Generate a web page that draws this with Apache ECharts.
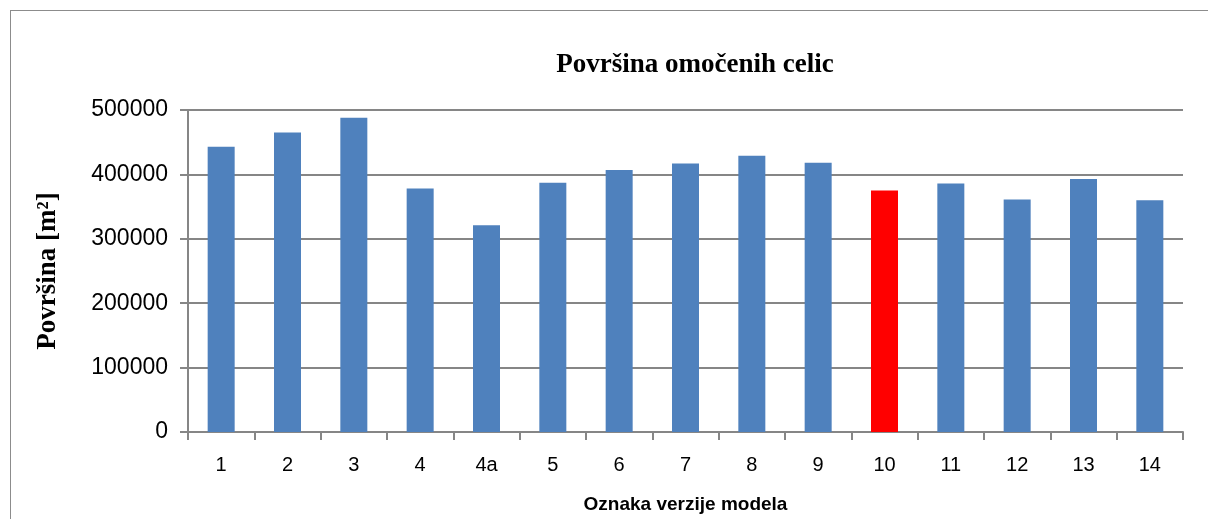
<!DOCTYPE html>
<html>
<head>
<meta charset="utf-8">
<script src="https://cdn.jsdelivr.net/npm/echarts@6/dist/echarts.min.js"></script>
<style>
  html, body { margin: 0; padding: 0; background: #fff; overflow: hidden; width: 1208px; height: 519px; }
  #frame { position: absolute; left: 10px; top: 10px; width: 1220px; height: 530px; border: 1px solid #8c8c8c; box-sizing: border-box; }
  #chart { position: absolute; left: 0; top: 0; width: 1208px; height: 519px; }
</style>
</head>
<body>
<div id="frame"></div>
<div id="chart"></div>
<script>
// oznake modelov
const categories = ['1', '2', '3', '4', '4a', '5', '6', '7', '8', '9', '10', '11', '12', '13', '14'];
// površina [m2]
const values = [443000, 465000, 488000, 378000, 321000, 387000, 407000, 417000, 429000, 418000, 375000, 386000, 361000, 393000, 360000];
const highlight = '10';
const yTicks = [0, 100000, 200000, 300000, 400000, 500000];

const myChart = echarts.init(document.getElementById('chart'));

const option = {
    animation: false,
    title: {
        text: 'Površina omočenih celic',
        left: 690,
        top: 47,
        textAlign: 'center',
        textStyle: {
            fontFamily: 'Liberation Serif',
            fontWeight: 'bold',
            fontSize: 27,
            color: '#000'
        }
    },
    grid: {
        left: 188,
        right: 25,
        top: 110,
        bottom: 87,
        outerBoundsMode: 'none'
    },
    xAxis: {
        type: 'category',
        data: categories,
        name: 'Oznaka verzije modela',
        nameLocation: 'middle',
        nameGap: 63,
        nameTextStyle: {
            fontFamily: 'Liberation Sans',
            fontWeight: 'bold',
            fontSize: 19,
            color: '#000'
        },
        axisLine: { lineStyle: { color: '#868686', width: 2 } },
        axisTick: { show: true, length: 8, lineStyle: { color: '#868686', width: 2 } },
        axisLabel: {
            margin: 23,
            fontFamily: 'Liberation Sans',
            fontSize: 20,
            color: '#000'
        }
    },
    yAxis: {
        type: 'value',
        min: yTicks[0],
        max: yTicks[yTicks.length - 1],
        interval: 100000,
        name: 'Površina [m²]',
        nameLocation: 'middle',
        nameGap: 126,
        nameTextStyle: {
            fontFamily: 'Liberation Serif',
            fontWeight: 'bold',
            fontSize: 27,
            color: '#000'
        },
        axisLine: { show: true, lineStyle: { color: '#868686', width: 2 } },
        axisTick: { show: true, length: 8, lineStyle: { color: '#868686', width: 2 } },
        axisLabel: {
            margin: 20,
            fontFamily: 'Liberation Sans',
            fontSize: 23,
            color: '#000',
            formatter: (v) => String(v)
        },
        splitLine: { lineStyle: { color: '#868686', width: 2 } }
    },
    series: [{
        type: 'bar',
        barWidth: 27,
        data: values.map((v, i) => ({
            value: v,
            itemStyle: { color: categories[i] === highlight ? '#ff0000' : '#4f81bd' }
        }))
    }]
};

myChart.setOption(option, true);
</script>
</body>
</html>
